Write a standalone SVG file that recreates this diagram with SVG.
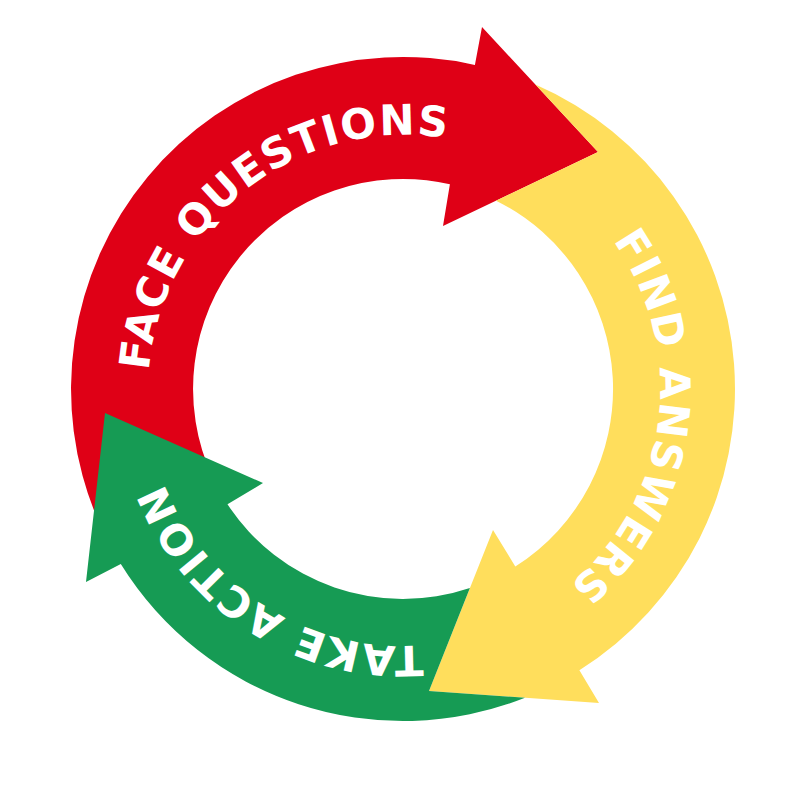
<svg xmlns="http://www.w3.org/2000/svg" width="802" height="802" viewBox="0 0 802 802">
  <style>
    .lbl { font-family: "DejaVu Sans", "Liberation Sans", sans-serif; font-weight: bold; font-size: 42px; fill: #FFFFFF; letter-spacing: 1.5px; }
    .red { fill: #DF0016; }
    .yellow { fill: #FFDE5C; }
    .green { fill: #169B54; }
  </style>
  <defs>
    <path id="arcRed" d="M 200.1 546.7 A 257 257 0 0 1 605.9 231.3"/>
    <path id="arcYellow" d="M 435.9 134.1 A 257 257 0 0 1 370.1 643.9"/>
    <path id="arcGreen" d="M 620.5 526 A 257 257 0 0 1 185.5 252"/>
  </defs>
  <rect width="802" height="802" fill="#FFFFFF"/>
  <g id="face-questions">
    <path class="red" d="M 97.4 518.7 A 332 332 0 0 1 474.9 64.9 L 482 27 L 598 152 L 443 226 L 449.9 184.3 A 210 210 0 0 0 212.7 477.7 Z"/>
    <text class="lbl"><textPath href="#arcRed" startOffset="50%" text-anchor="middle">FACE QUESTIONS</textPath></text>
  </g>
  <g id="find-answers">
    <path class="yellow" d="M 535.4 84.5 A 332 332 0 0 1 579.4 670.2 L 599 703 L 429 691 L 493 530 L 515.3 566.5 A 210 210 0 0 0 496 200.7 L 598 152 Z"/>
    <text class="lbl"><textPath href="#arcYellow" startOffset="50%" text-anchor="middle">FIND ANSWERS</textPath></text>
  </g>
  <g id="take-action">
    <path class="green" d="M 525 697.8 A 332 332 0 0 1 120.8 564 L 86 582 L 105 413 L 263 483 L 227.5 504.3 A 210 210 0 0 0 469.9 588 L 429 691 Z"/>
    <text class="lbl"><textPath href="#arcGreen" startOffset="50%" text-anchor="middle">TAKE ACTION</textPath></text>
  </g>
</svg>
